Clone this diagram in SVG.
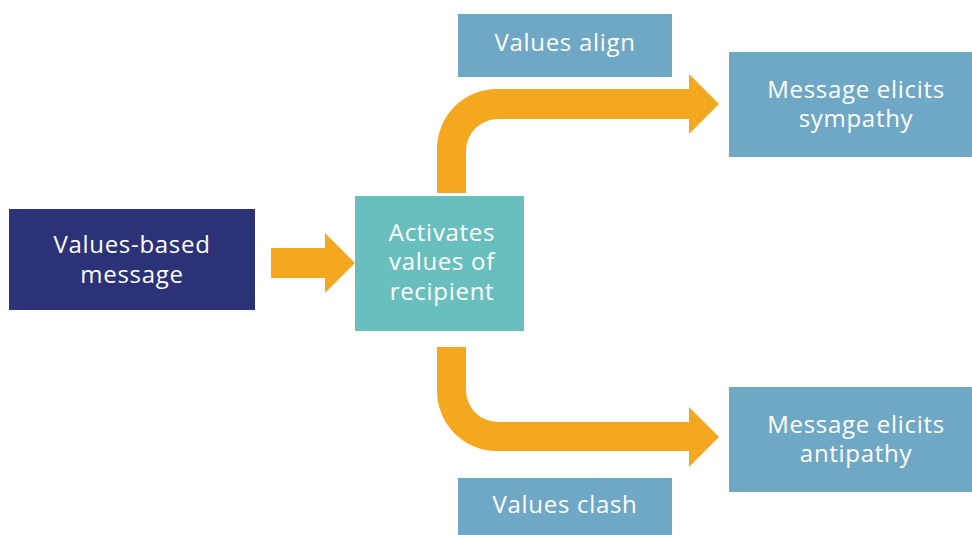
<svg xmlns="http://www.w3.org/2000/svg" width="972" height="535" viewBox="0 0 972 535">
<style>
text{font-family:"Open Sans","Noto Sans","Liberation Sans",sans-serif;font-size:24px;letter-spacing:0.7px;fill:#fff;text-anchor:middle}
.arrow{fill:#F4A81F}
.blue{fill:#6FA8C5}
</style>
<rect width="972" height="535" fill="#fff"/>
<g id="connectors">
<path class="arrow" d="M271,248 H325 V233 L355,263 L325,293 V278 H271 Z"/>
<path class="arrow" d="M437,193 V149 A60,60 0 0 1 497,89 H689 V74 L719,104 L689,134 V119 H498 A32,32 0 0 0 466,151 V193 Z"/>
<path class="arrow" d="M437,347 V391 A60,60 0 0 0 497,451 H689 V467 L719,437 L689,407 V422 H498 A32,32 0 0 1 466,390 V347 Z"/>
</g>
<g id="values-based-message">
<rect x="9" y="209" width="246" height="101" fill="#2B3278"/>
<text x="132" y="253">Values-based</text>
<text x="132" y="283">message</text>
</g>
<g id="activates-values">
<rect x="355" y="196" width="169" height="135" fill="#69BFBE"/>
<text x="442" y="241">Activates</text>
<text x="442" y="270">values of</text>
<text x="442" y="300">recipient</text>
</g>
<g id="values-align">
<rect class="blue" x="458" y="14" width="214" height="63"/>
<text x="565" y="51">Values align</text>
</g>
<g id="sympathy">
<rect class="blue" x="729" y="52" width="243" height="105"/>
<text x="856" y="98">Message elicits</text>
<text x="856" y="127">sympathy</text>
</g>
<g id="antipathy">
<rect class="blue" x="729" y="387" width="243" height="105"/>
<text x="856" y="433">Message elicits</text>
<text x="856" y="462">antipathy</text>
</g>
<g id="values-clash">
<rect class="blue" x="458" y="478" width="214" height="57"/>
<text x="565" y="513">Values clash</text>
</g>
</svg>
